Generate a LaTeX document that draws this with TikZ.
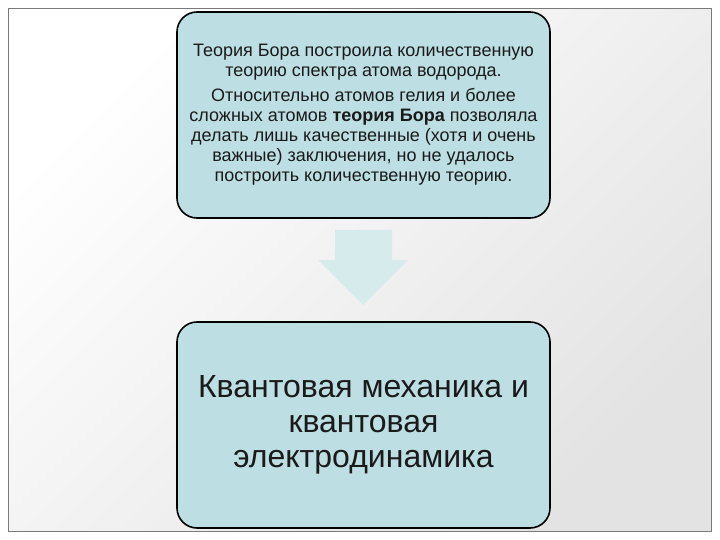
\documentclass[tikz,border=0pt]{standalone}
\usepackage{fontspec}
\setmainfont{Liberation Sans}
\definecolor{boxfill}{HTML}{BDDFE3}
\definecolor{arrfill}{HTML}{D6ECEC}
\definecolor{txt}{HTML}{1A1A1A}
\definecolor{framec}{HTML}{7A7A7A}
\tikzset{
  stepbox/.style={draw=black, line width=1.6pt, fill=boxfill, rounded corners=20pt,
    minimum width=373pt, minimum height=206pt, align=center, text=txt, inner sep=0pt},
}
\begin{document}
\begin{tikzpicture}[x=1pt,y=-1pt]
\useasboundingbox (0,0) rectangle (720,540);
\fill[white] (0,0) rectangle (720,540);
\shade[top color=white, bottom color=black!11, shading angle=45] (8,9) rectangle (711,531);
\draw[framec, line width=1pt] (8,9) rectangle (711,531);
\node[stepbox, font=\fontsize{18}{20}\selectfont] (top) at (363.5,115) {%
Теория Бора построила количественную\\
теорию спектра атома водорода.\\[5pt]
Относительно атомов гелия и более\\
сложных атомов \textbf{теория Бора} позволяла\\
делать лишь качественные (хотя и очень\\
важные) заключения, но не удалось\\
построить количественную теорию.};
\node[stepbox, font=\fontsize{32}{35}\selectfont] (bot) at (363.5,425) {%
Квантовая механика и\\
квантовая\\
электродинамика};
\fill[arrfill] (335,230) -- (392,230) -- (392,260) -- (408,260) -- (363,305) -- (318,260) -- (335,260) -- cycle;
\end{tikzpicture}
\end{document}
